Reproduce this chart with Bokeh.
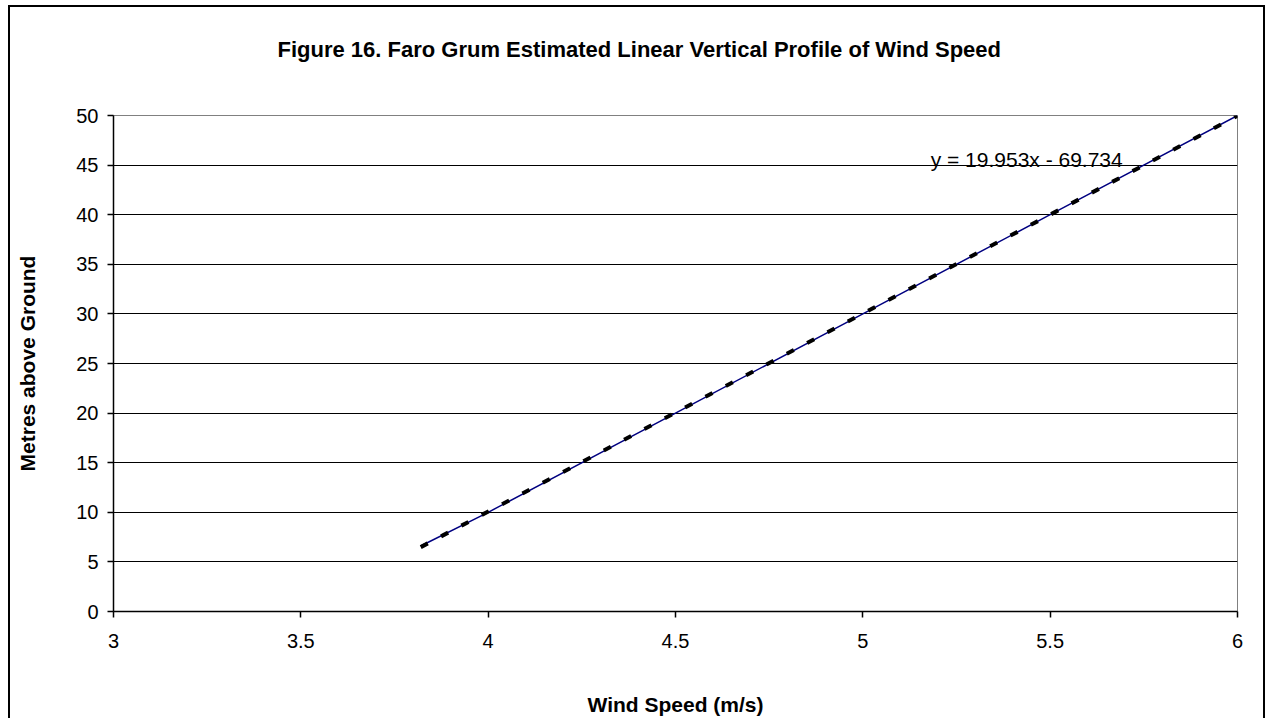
from bokeh.plotting import figure
from bokeh.models import Label, FixedTicker, Range1d, Title
from bokeh.embed import file_html
from bokeh.resources import INLINE

# ---- data ----
wind_speed = [3.82, 4.0, 4.5, 5.0, 5.5, 6.0]          # m/s
height_m = [6.6, 10.0, 20.0, 30.0, 40.0, 50.0]         # metres above ground

trend_x = [3.82, 6.0]
trend_y = [6.49, 49.98]
trend_text = "y = 19.953x - 69.734"

x_ticks = [3, 3.5, 4, 4.5, 5, 5.5, 6]
x_tick_labels = ["3", "3.5", "4", "4.5", "5", "5.5", "6"]
y_ticks = [0, 5, 10, 15, 20, 25, 30, 35, 40, 45, 50]
y_grid_ticks = [5, 10, 15, 20, 25, 30, 35, 40, 45]

title_text = "Figure 16.  Faro Grum Estimated Linear Vertical Profile of Wind Speed"
x_label_text = "Wind Speed (m/s)"
y_label_text = "Metres above Ground"

FONT = "Liberation Sans"

p = figure(width=1257, height=713, output_backend="svg", toolbar_location=None,
           x_range=Range1d(3, 6), y_range=Range1d(0, 50),
           min_border_left=103, min_border_right=30,
           min_border_top=108, min_border_bottom=109)
p.styles = {"margin-left": "8px", "margin-top": "5px",
            "border-left": "2px solid black", "border-top": "2px solid black",
            "border-right": "2px solid black"}

p.background_fill_color = "white"
p.border_fill_color = "white"
p.outline_line_color = "#808080"
p.outline_line_width = 1

# spacer between the title and the plot frame (nearest to the frame)
p.add_layout(Title(text=" ", text_font_size="10px", standoff=36), "above")

# title (outermost)
p.title.text = title_text
p.title.align = "left"
p.title.offset = 164
p.title.text_font = FONT
p.title.text_font_size = "22px"
p.title.text_font_style = "bold"
p.title.text_color = "black"
p.title.standoff = 10

# axes
for ax in (p.xaxis, p.yaxis):
    ax.axis_line_color = "black"
    ax.axis_line_width = 1.5
    ax.major_tick_line_color = "black"
    ax.major_tick_line_width = 1.5
    ax.major_tick_out = 6
    ax.major_tick_in = 0
    ax.minor_tick_line_color = None
    ax.major_label_text_font = FONT
    ax.major_label_text_font_size = "20px"
    ax.major_label_text_color = "black"
    ax.axis_label_text_font = FONT
    ax.axis_label_text_font_size = "21px"
    ax.axis_label_text_font_style = "bold"
    ax.axis_label_text_color = "black"

p.xaxis.ticker = FixedTicker(ticks=x_ticks)
p.xaxis.major_label_overrides = {t: l for t, l in zip(x_ticks, x_tick_labels)}
p.xaxis.major_label_standoff = 16
p.xaxis.axis_label = x_label_text
p.xaxis.axis_label_standoff = 42
p.yaxis.ticker = FixedTicker(ticks=y_ticks)
p.yaxis.major_label_standoff = 9
p.yaxis.axis_label = y_label_text
p.yaxis.axis_label_standoff = 34

# grid
p.xgrid.grid_line_color = None
p.ygrid.grid_line_color = "black"
p.ygrid.grid_line_width = 1.2
p.ygrid.ticker = FixedTicker(ticks=y_grid_ticks)

# series
p.line(wind_speed, height_m, line_color="#000080", line_width=1.5)
p.line(trend_x, trend_y, line_color="black", line_width=4, line_dash="8 15")

# trendline equation
p.add_layout(Label(x=5.181, y=45.6, text=trend_text, text_font=FONT,
                   text_font_size="21px", text_color="black",
                   text_align="left", text_baseline="alphabetic"))

open("out.html", "w").write(file_html(p, INLINE))
